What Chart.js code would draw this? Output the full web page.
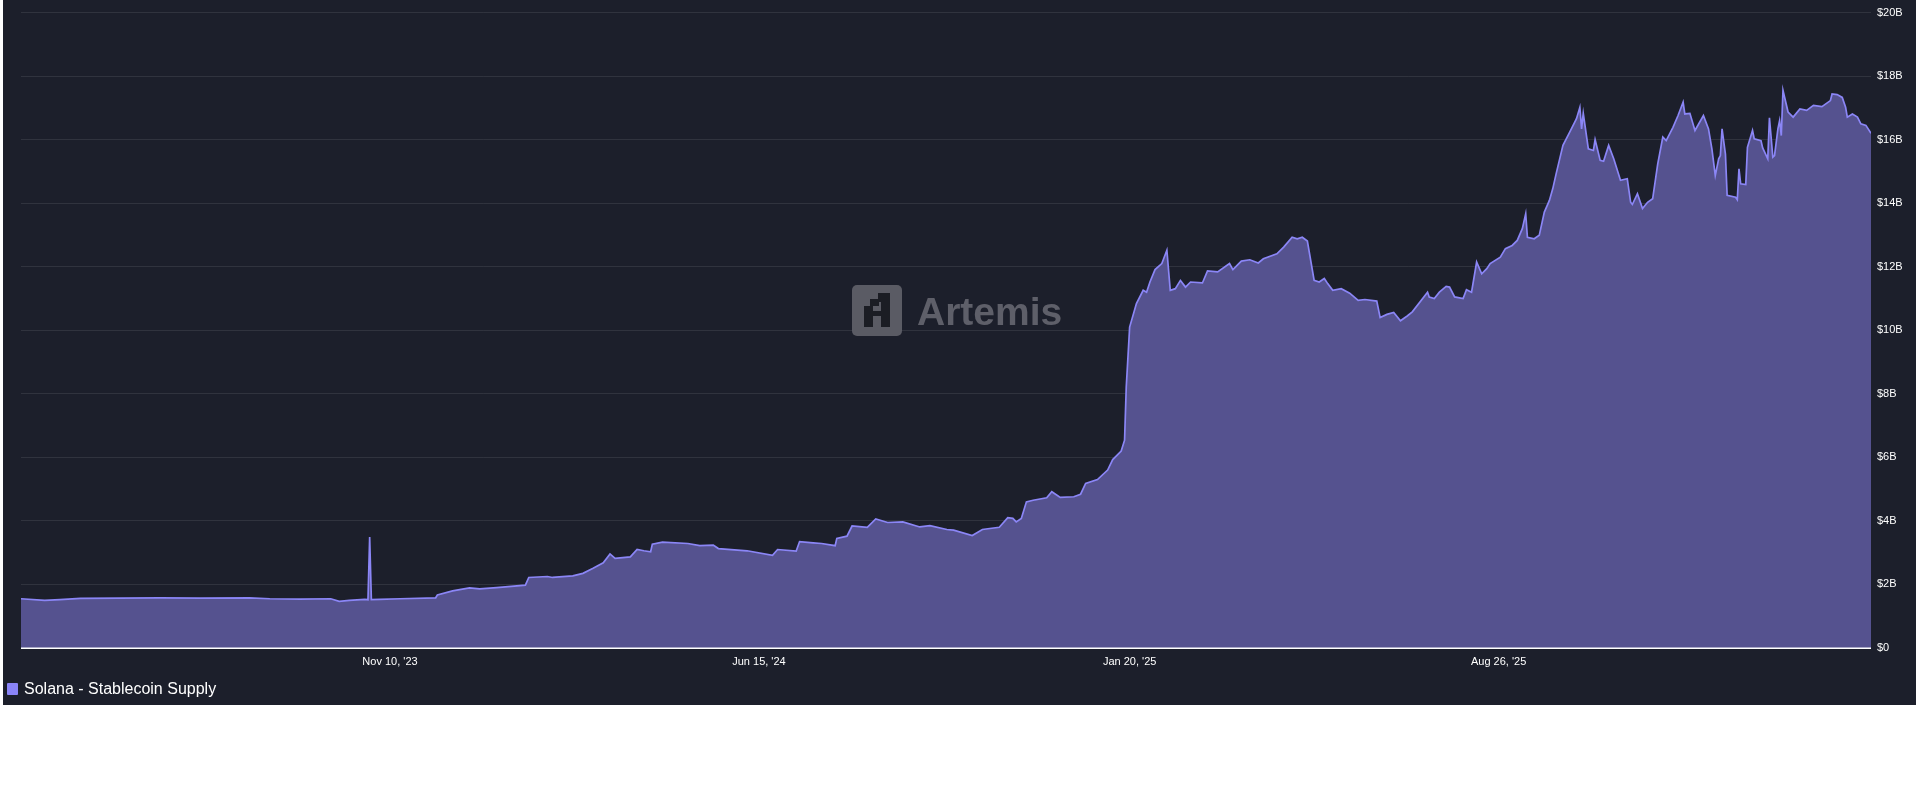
<!DOCTYPE html>
<html>
<head>
<meta charset="utf-8">
<script src="https://cdn.jsdelivr.net/npm/chart.js@4/dist/chart.umd.min.js"></script>
<style>
  html, body { margin: 0; padding: 0; background: #ffffff; width: 1920px; height: 800px; overflow: hidden; }
  #panel { position: absolute; left: 3px; top: 0; width: 1913px; height: 705px; background: #1c1f2b; }
  #wrap { position: absolute; left: 0; top: 0; width: 1913px; height: 705px; }
  #legend { position: absolute; left: 4px; top: 680px; height: 18px; display: flex; align-items: center;
            font-family: "Liberation Sans", Arial, sans-serif; font-size: 16px; color: #ffffff; }
  #legend .sw { width: 11px; height: 12px; background: #8a84f8; border-radius: 1px; margin-right: 6px; }
</style>
</head>
<body>
<div id="panel">
  <div id="wrap"><canvas id="c" width="1913" height="705"></canvas></div>
  <div id="legend"><span class="sw"></span><span>Solana - Stablecoin Supply</span></div>
</div>
<script>
// Days since 2023-04-06
const startDate = '2023-04-06';
const days = [0,14,23,35,58,82,106,135,147,165,183,188,194,203,205,206,207,212,224,245,246,255,265,271,281,298,300,311,314,326,332,338,344,348,351,360,364,368,372,373,379,394,401,409,412,429,444,447,458,460,468,473,481,482,488,491,500,505,512,521,531,537,547,551,562,568,578,583,586,588,591,594,598,606,609,614,622,626,629,636,642,645,650,652,653,655,659,663,665,667,670,674,677,679,682,685,688,691,698,701,707,714,716,721,726,731,734,742,746,751,754,757,760,764,767,770,772,775,780,785,790,794,801,803,807,811,815,819,822,831,832,835,838,842,844,847,852,854,857,860,863,866,868,874,877,881,884,887,889,890,894,897,900,903,905,907,911,915,919,921,922,923,926,929,930,933,935,938,941,945,949,951,952,955,958,961,964,967,970,972,976,979,982,983,986,989,994,997,999,1001,1003,1004,1005,1007,1008,1013,1014,1015,1016,1019,1020,1023,1024,1028,1029,1032,1033,1035,1036,1038,1039,1040,1041,1044,1047,1051,1055,1059,1064,1069,1070,1073,1076,1078,1079,1082,1085,1087,1090,1093];
// Stablecoin supply, billions USD
const supply = [1.55,1.50,1.52,1.56,1.57,1.58,1.57,1.58,1.55,1.54,1.55,1.47,1.50,1.53,1.52,3.49,1.52,1.53,1.55,1.58,1.67,1.80,1.89,1.86,1.90,1.98,2.22,2.25,2.22,2.27,2.35,2.51,2.68,2.96,2.82,2.87,3.10,3.06,3.03,3.27,3.33,3.29,3.22,3.24,3.13,3.06,2.92,3.10,3.05,3.35,3.31,3.29,3.22,3.45,3.52,3.84,3.80,4.06,3.95,3.97,3.81,3.85,3.73,3.71,3.54,3.73,3.80,4.10,4.08,3.97,4.08,4.60,4.65,4.73,4.92,4.74,4.76,4.84,5.18,5.30,5.60,5.93,6.20,6.54,8.22,10.10,10.84,11.26,11.20,11.52,11.91,12.10,12.52,11.26,11.31,11.57,11.36,11.52,11.49,11.87,11.84,12.10,11.91,12.18,12.22,12.12,12.25,12.41,12.62,12.93,12.88,12.93,12.81,11.57,11.52,11.63,11.47,11.26,11.31,11.17,10.94,10.97,10.92,10.40,10.50,10.56,10.30,10.45,10.58,11.20,11.05,11.00,11.20,11.38,11.36,11.05,11.00,11.28,11.20,12.15,11.78,11.94,12.10,12.30,12.57,12.67,12.83,13.20,13.67,12.93,12.88,12.99,13.72,14.09,14.46,14.93,15.82,16.24,16.66,17.02,16.34,16.83,15.71,15.66,16.00,15.35,15.32,15.82,15.40,14.72,14.77,14.03,13.96,14.30,13.83,14.03,14.14,15.24,16.08,15.97,16.39,16.76,17.18,16.81,16.83,16.29,16.76,16.34,15.71,14.87,15.40,15.50,16.34,15.55,14.25,14.19,14.11,15.08,14.61,14.59,15.76,16.29,16.03,15.97,15.74,15.40,16.69,15.45,15.50,16.34,16.60,16.13,17.55,16.87,16.71,16.97,16.92,17.08,17.04,17.23,17.44,17.42,17.33,17.02,16.71,16.81,16.71,16.50,16.45,16.20];
const tickDays = [218, 436, 655, 873];
const tickLabels = ["Nov 10, '23", "Jun 15, '24", "Jan 20, '25", "Aug 26, '25"];
const yTickValues = [0, 2, 4, 6, 8, 10, 12, 14, 16, 18, 20];
const seriesName = 'Solana - Stablecoin Supply';

const FONT = '"Liberation Sans", Arial, Helvetica, sans-serif';
const points = days.map((d, i) => ({ x: d, y: supply[i] }));

const watermark = {
  id: 'watermark',
  beforeDatasetsDraw(chart) {
    const ctx = chart.ctx;
    ctx.save();
    const lx = 849, ly = 285;
    ctx.fillStyle = '#5a5b64';
    ctx.beginPath();
    if (ctx.roundRect) ctx.roundRect(lx, ly, 50, 51, 5); else ctx.rect(lx, ly, 50, 51);
    ctx.fill();
    ctx.fillStyle = '#1b1d24';
    ctx.fillRect(lx + 26, ly + 8, 12, 9);
    ctx.fillRect(lx + 18, ly + 14, 9, 7);
    ctx.fillRect(lx + 12, ly + 21, 9, 21);
    ctx.fillRect(lx + 29, ly + 8, 9, 34);
    ctx.fillRect(lx + 20, ly + 26, 10, 5);
    ctx.fillStyle = '#5e5f69';
    ctx.font = 'bold 39px ' + FONT;
    ctx.textBaseline = 'alphabetic';
    ctx.fillText('Artemis', 914, 325);
    ctx.restore();
  },
  afterDatasetsDraw(chart) {
    const ctx = chart.ctx, a = chart.chartArea;
    ctx.save();
    ctx.strokeStyle = '#ffffff';
    ctx.lineWidth = 1.5;
    ctx.beginPath();
    ctx.moveTo(a.left, a.bottom + 0.25);
    ctx.lineTo(a.right, a.bottom + 0.25);
    ctx.stroke();
    ctx.restore();
  }
};

new Chart(document.getElementById('c'), {
  type: 'line',
  data: {
    datasets: [{
      label: seriesName,
      data: points,
      borderColor: '#8b86f6',
      borderWidth: 1.7,
      backgroundColor: '#55528f',
      fill: 'origin',
      pointRadius: 0,
      tension: 0
    }]
  },
  options: {
    responsive: false,
    animation: false,
    layout: { padding: { left: 18, top: 12, right: 0, bottom: 0 } },
    plugins: { legend: { display: false }, tooltip: { enabled: false } },
    scales: {
      x: {
        type: 'linear',
        min: 0,
        max: 1093,
        grid: { display: false, drawTicks: false },
        border: { display: false },
        afterBuildTicks: (s) => { s.ticks = tickDays.map(v => ({ value: v })); },
        afterFit: (s) => { s.height = 57; },
        ticks: {
          color: '#ffffff',
          font: { family: FONT, size: 11 },
          maxRotation: 0,
          autoSkip: false,
          padding: 7,
          callback: (v) => { const i = tickDays.indexOf(v); return i >= 0 ? tickLabels[i] : ''; }
        }
      },
      y: {
        position: 'right',
        min: 0,
        max: 20,
        afterBuildTicks: (s) => { s.ticks = yTickValues.map(v => ({ value: v })); },
        afterFit: (s) => { s.width = 45; },
        grid: { color: 'rgba(255,255,255,0.09)', drawTicks: false, lineWidth: 1 },
        border: { display: false },
        ticks: {
          color: '#ffffff',
          font: { family: FONT, size: 11 },
          padding: 6,
          callback: (v) => v === 0 ? '$0' : '$' + v + 'B'
        }
      }
    }
  },
  plugins: [watermark]
});
</script>
</body>
</html>
